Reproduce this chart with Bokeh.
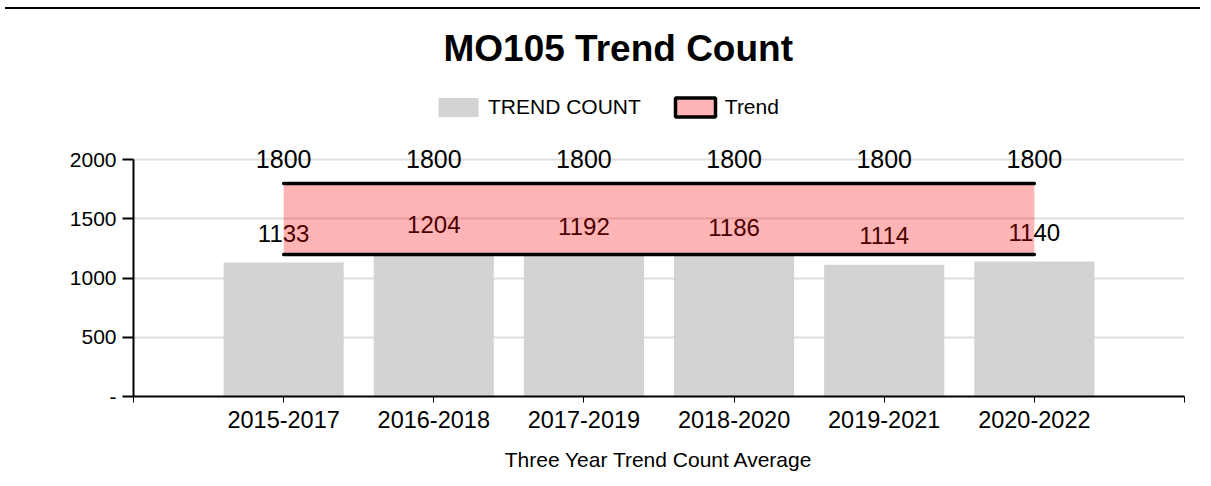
from bokeh.plotting import figure
from bokeh.models import (FixedTicker, Legend, LegendItem, Range1d, Div)
from bokeh.layouts import column
from bokeh.embed import file_html
from bokeh.resources import INLINE
from bokeh.core.properties import value

# ---- data ----
periods = ["2015-2017", "2016-2018", "2017-2019", "2018-2020", "2019-2021", "2020-2022"]
trend_count = [1133, 1204, 1192, 1186, 1114, 1140]
trend_upper = [1800, 1800, 1800, 1800, 1800, 1800]
trend_lower = [1200, 1200, 1200, 1200, 1200, 1200]
y_ticks = [0, 500, 1000, 1500, 2000]

FONT = "Liberation Sans"
xs = list(range(1, len(periods) + 1))
nan = float("nan")

p = figure(width=1195, height=466, output_backend="svg", toolbar_location=None,
           x_range=Range1d(0, len(periods) + 1), y_range=Range1d(0, 2771),
           min_border_left=133, min_border_right=11, min_border_bottom=84,
           min_border_top=54)
p.outline_line_color = None
p.background_fill_color = "white"
p.border_fill_color = "white"

# title
p.title.text = "MO105 Trend Count"
p.title.text_font = FONT
p.title.text_font_size = "37px"
p.title.text_font_style = "bold"
p.title.align = "left"
p.title.offset = 310
p.title.text_color = "black"
p.title.standoff = 0

# bars
bars = p.vbar(x=xs, top=trend_count, width=0.8, fill_color="#d3d3d3", line_color=None)

# value labels (under band)
p.text(x=xs, y=trend_count, text=[str(v) for v in trend_count],
       text_align="center", text_baseline="alphabetic", y_offset=-29,
       text_font=value(FONT), text_font_size="24px", text_color="black")

# trend band
p.varea(x=xs, y1=trend_lower, y2=trend_upper, fill_color="red", fill_alpha=0.29)
p.line(x=xs, y=trend_upper, line_color="black", line_width=3.5, line_cap="round")
p.line(x=xs, y=trend_lower, line_color="black", line_width=3.5, line_cap="round")

p.text(x=xs, y=trend_upper, text=[str(v) for v in trend_upper],
       text_align="center", text_baseline="alphabetic", y_offset=-24,
       text_font=value(FONT), text_font_size="25px", text_color="black")

# legend proxy for band (not drawn in plot)
proxy = p.quad(left=[nan], right=[nan], top=[nan], bottom=[nan], fill_color="red",
               fill_alpha=0.29, line_color="black", line_width=3.5)

legend = Legend(items=[LegendItem(label="TREND COUNT", renderers=[bars]),
                       LegendItem(label="Trend", renderers=[proxy])],
                orientation="horizontal", location=(300, 277),
                glyph_width=50, glyph_height=24, label_standoff=5, spacing=29,
                label_text_font=FONT, label_text_font_size="21px",
                label_text_color="black",
                border_line_color=None, background_fill_alpha=0,
                padding=0, margin=0)
p.add_layout(legend, "center")

# axes
p.xaxis.ticker = FixedTicker(ticks=list(range(0, len(periods) + 2)))
overrides = {0: "", len(periods) + 1: ""}
for i, lab in enumerate(periods):
    overrides[i + 1] = lab
p.xaxis.major_label_overrides = overrides
p.xaxis.major_label_text_font = FONT
p.xaxis.major_label_text_font_size = "23.5px"
p.xaxis.major_label_text_color = "black"
p.xaxis.axis_line_color = "black"
p.xaxis.axis_line_width = 2
p.xaxis.major_tick_in = 0
p.xaxis.major_tick_out = 6
p.xaxis.major_tick_line_color = "black"
p.xaxis.minor_tick_line_color = None
p.xaxis.major_label_standoff = 8
p.xaxis.axis_label = "Three Year Trend Count Average"
p.xaxis.axis_label_text_font = FONT
p.xaxis.axis_label_text_font_size = "21px"
p.xaxis.axis_label_text_font_style = "normal"
p.xaxis.axis_label_text_color = "black"
p.xaxis.axis_label_standoff = 17

p.yaxis.ticker = FixedTicker(ticks=y_ticks)
p.yaxis.bounds = (0, 2000)
p.yaxis.major_label_overrides = {0: "-"}
p.yaxis.major_label_text_font = FONT
p.yaxis.major_label_text_font_size = "21px"
p.yaxis.major_label_text_color = "black"
p.yaxis.axis_line_color = "black"
p.yaxis.axis_line_width = 2
p.yaxis.major_tick_in = 0
p.yaxis.major_tick_out = 11
p.yaxis.major_tick_line_width = 2
p.yaxis.major_tick_line_color = "black"
p.yaxis.minor_tick_line_color = None
p.yaxis.major_label_standoff = 6

p.xgrid.grid_line_color = None
p.ygrid.grid_line_color = "#dedede"
p.ygrid.grid_line_width = 2

top_line = Div(text="", width=1195, height=4, styles={"border-bottom": "2px solid black"})

layout = column(top_line, p, spacing=0)
open("out.html", "w").write(file_html(layout, INLINE))
